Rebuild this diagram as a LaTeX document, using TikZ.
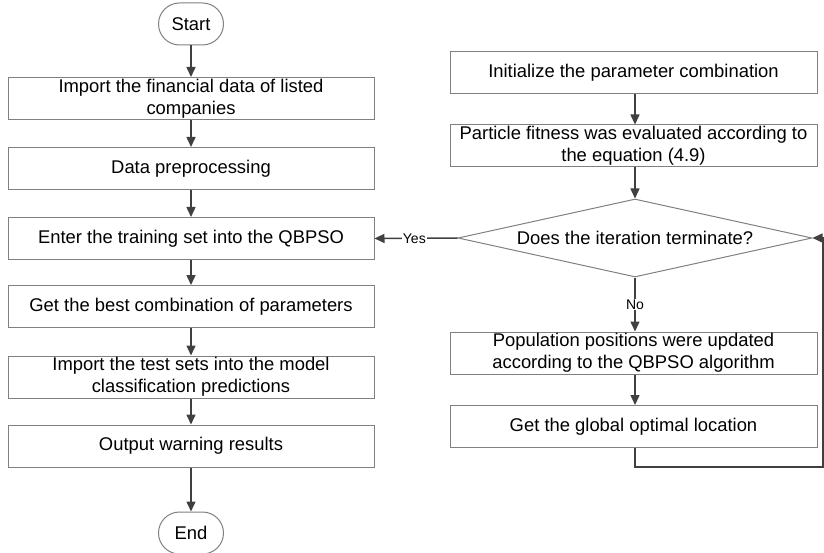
\documentclass[tikz,border=0pt]{standalone}
\usepackage{fontspec}
\setmainfont{Liberation Sans}
\usepackage{xcolor}
\usepackage{tikz}
\usetikzlibrary{shapes,arrows.meta,positioning,calc}

\definecolor{boxline}{HTML}{808080}
\definecolor{flowline}{HTML}{404040}

\tikzset{
  procbox/.style={draw=boxline, line width=1pt, rectangle, minimum width=366pt,
    minimum height=42pt, align=center, inner sep=1pt,
    font=\fontsize{18.4}{21.7}\selectfont},
  termbox/.style={draw=boxline, line width=1pt, rounded rectangle, minimum width=69pt,
    minimum height=42pt, inner sep=2pt, font=\fontsize{18.4}{21.7}\selectfont},
  decbox/.style={draw=boxline, line width=1pt, diamond, aspect=4.54, minimum width=354pt,
    minimum height=78pt, inner sep=0pt, font=\fontsize{18.4}{21.7}\selectfont},
  flow/.style={draw=flowline, line width=1.5pt,
    -{Triangle[length=10pt,width=9pt]}},
  lbl/.style={fill=white, inner sep=1pt, font=\fontsize{14}{16}\selectfont}
}

\begin{document}
\begin{tikzpicture}[x=1pt, y=-1pt]
  \useasboundingbox (0,0) rectangle (824,553);

  % left column
  \node[termbox] (start) at (191,24) {Start};
  \node[procbox] (import) at (191,98.5) {Import the financial data of listed\\companies};
  \node[procbox] (prep) at (191,168.5) {Data preprocessing};
  \node[procbox] (train) at (191,238.5) {Enter the training set into the QBPSO};
  \node[procbox] (best) at (191,306.5) {Get the best combination of parameters};
  \node[procbox] (test) at (191,377) {Import the test sets into the model\\classification predictions};
  \node[procbox] (output) at (191,446) {Output warning results};
  \node[termbox] (end) at (191,533) {End};

  % right column
  \node[procbox, minimum width=367pt] (init) at (633.5,72.5) {Initialize the parameter combination};
  \node[procbox, minimum width=367pt] (fit) at (633.5,146) {Particle fitness was evaluated according to\\the equation (4.9)};
  \node[decbox] (iter) at (635,238) {Does the iteration terminate?};
  \node[procbox, minimum width=367pt] (update) at (633.5,353) {Population positions were updated\\according to the QBPSO algorithm};
  \node[procbox, minimum width=367pt] (optim) at (633.5,426.5) {Get the global optimal location};
  \coordinate (back) at (823,467);

  \draw[flow] (start) -- (import);
  \draw[flow] (import) -- (prep);
  \draw[flow] (prep) -- (train);
  \draw[flow] (train) -- (best);
  \draw[flow] (best) -- (test);
  \draw[flow] (test) -- (output);
  \draw[flow] (output) -- (end);

  \draw[flow] (init.south -| iter.north) -- (fit.north -| iter.north);
  \draw[flow] (fit.south -| iter.north) -- (iter.north);
  \draw[flow] (iter.west) -- node[lbl, pos=0.52] {Yes} (train.east);
  \draw[flow] (iter.south) -- node[lbl] {No} (update.north -| iter.south);
  \draw[flow] (update.south -| iter.south) -- (optim.north -| iter.south);
  \draw[flow] (optim.south -| iter.south) |- (back) |- (iter.east);
\end{tikzpicture}
\end{document}
